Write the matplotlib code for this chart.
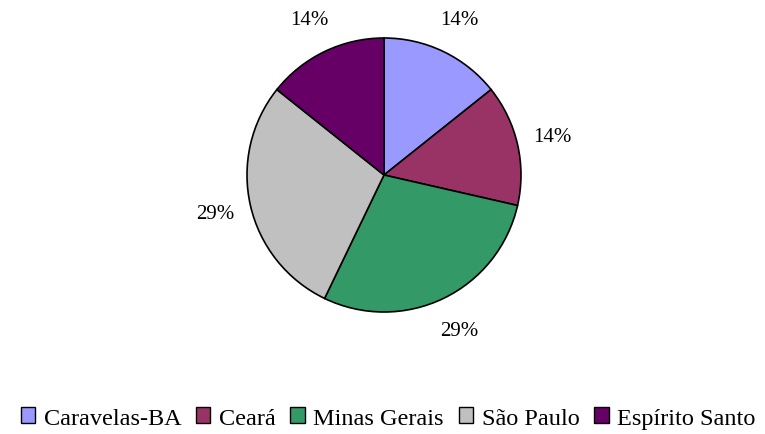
import matplotlib
matplotlib.use("Agg")
import matplotlib.pyplot as plt
from matplotlib.patches import Patch

categories = ["Caravelas-BA", "Ceará", "Minas Gerais", "São Paulo", "Espírito Santo"]
values = [1, 1, 2, 2, 1]
colors = ["#9999FF", "#993366", "#339966", "#C0C0C0", "#660066"]

plt.rcParams['font.family'] = ['Liberation Serif', 'DejaVu Serif']

fig = plt.figure(figsize=(7.65, 4.35), dpi=100)
W, H = 765, 435
cx, cy, r = 384, 176, 137
ax = fig.add_axes([(cx - r) / W, (H - cy - r) / H, 2 * r / W, 2 * r / H])
wedges, texts, autotexts = ax.pie(values, colors=colors, startangle=90, counterclock=False,
       autopct=lambda p: f"{p:.0f}%", pctdistance=1.26,
       wedgeprops=dict(edgecolor="black", linewidth=1.2),
       textprops=dict(fontsize=15, color="black"))
ax.set_xlim(-1, 1)
ax.set_ylim(-1, 1)
ax.set_aspect("equal")

handles = [Patch(facecolor=c, edgecolor="black", linewidth=1) for c in colors]
fig.legend(handles, categories, loc="center", bbox_to_anchor=(388 / W, (H - 419) / H),
           ncol=5, frameon=False, fontsize=17.5, handlelength=0.6, handleheight=0.6,
           handletextpad=0.35, columnspacing=0.6)

fig.savefig("out.png", dpi=100)
